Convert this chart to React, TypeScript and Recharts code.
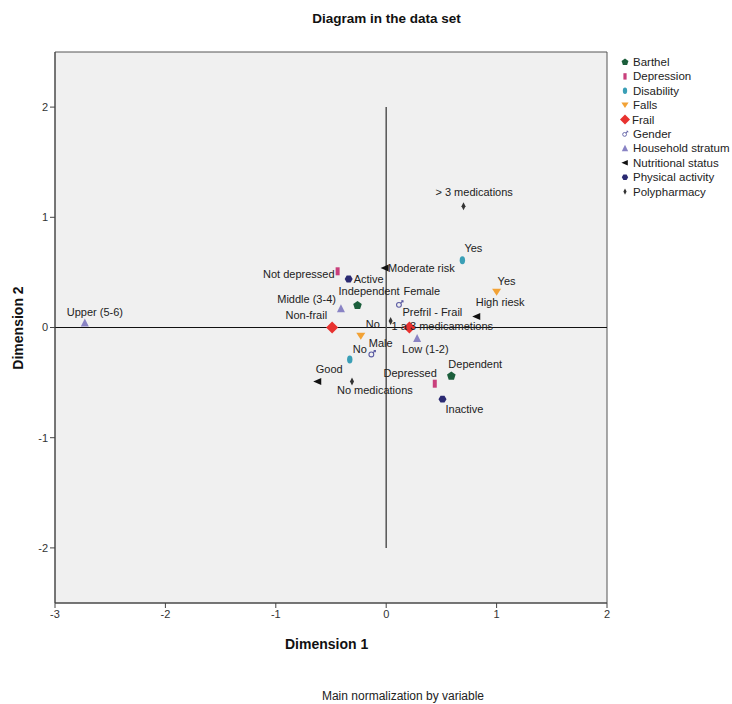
import React from "react";
import { ScatterChart, Scatter, XAxis, YAxis, ReferenceArea, ReferenceLine } from "recharts";

type Pt = { label: string; d1: number; d2: number };

// category points (dimension 1, dimension 2) per variable
const barthel: Pt[] = [
  { label: "Independent", d1: -0.26, d2: 0.2 },
  { label: "Dependent", d1: 0.59, d2: -0.44 },
];
const depression: Pt[] = [
  { label: "Not depressed", d1: -0.44, d2: 0.51 },
  { label: "Depressed", d1: 0.44, d2: -0.51 },
];
const disability: Pt[] = [
  { label: "Yes", d1: 0.69, d2: 0.61 },
  { label: "No", d1: -0.33, d2: -0.29 },
];
const falls: Pt[] = [
  { label: "Yes", d1: 1.0, d2: 0.32 },
  { label: "No", d1: -0.23, d2: -0.08 },
];
const frail: Pt[] = [
  { label: "Non-frail", d1: -0.49, d2: 0.0 },
  { label: "Prefril - Frail", d1: 0.21, d2: 0.0 },
];
const gender: Pt[] = [
  { label: "Female", d1: 0.12, d2: 0.21 },
  { label: "Male", d1: -0.13, d2: -0.24 },
];
const household: Pt[] = [
  { label: "Upper (5-6)", d1: -2.73, d2: 0.04 },
  { label: "Middle (3-4)", d1: -0.41, d2: 0.17 },
  { label: "Low (1-2)", d1: 0.28, d2: -0.1 },
];
const nutritional: Pt[] = [
  { label: "Moderate risk", d1: -0.01, d2: 0.54 },
  { label: "High riesk", d1: 0.82, d2: 0.1 },
  { label: "Good", d1: -0.62, d2: -0.49 },
];
const physical: Pt[] = [
  { label: "Active", d1: -0.34, d2: 0.44 },
  { label: "Inactive", d1: 0.51, d2: -0.65 },
];
const polypharmacy: Pt[] = [
  { label: "> 3 medications", d1: 0.7, d2: 1.1 },
  { label: "1 a 3 medicametions", d1: 0.04, d2: 0.06 },
  { label: "No medications", d1: -0.31, d2: -0.49 },
];

const seriesNames = [
  "Barthel",
  "Depression",
  "Disability",
  "Falls",
  "Frail",
  "Gender",
  "Household stratum",
  "Nutritional status",
  "Physical activity",
  "Polypharmacy",
];
const seriesData = [barthel, depression, disability, falls, frail, gender, household, nutritional, physical, polypharmacy];

const xTicks = [-3, -2, -1, 0, 1, 2];
const yTicks = [-2, -1, 0, 1, 2];

const FONT = "'Liberation Sans', Arial, sans-serif";

// label placement relative to the marker: dx, dy, anchor
const labelPos: Record<string, [number, number, "start" | "end" | "middle"]> = {
  "Barthel:Independent": [-19, -10, "start"],
  "Barthel:Dependent": [-3, -8, "start"],
  "Depression:Not depressed": [-3, 7, "end"],
  "Depression:Depressed": [2, -7, "end"],
  "Disability:Yes": [2, -8, "start"],
  "Disability:No": [3, -6, "start"],
  "Falls:Yes": [1, -7, "start"],
  "Falls:No": [5, -8, "start"],
  "Frail:Non-frail": [-5, -9, "end"],
  "Frail:Prefril - Frail": [-7, -12, "start"],
  "Gender:Female": [4, -9, "start"],
  "Gender:Male": [-3, -7, "start"],
  "Household stratum:Upper (5-6)": [-18, -7, "start"],
  "Household stratum:Middle (3-4)": [-5, -6, "end"],
  "Household stratum:Low (1-2)": [-15, 14, "start"],
  "Nutritional status:Moderate risk": [3, 4, "start"],
  "Nutritional status:High riesk": [-1, -10, "start"],
  "Nutritional status:Good": [-2, -8, "start"],
  "Physical activity:Active": [5, 4, "start"],
  "Physical activity:Inactive": [3, 14, "start"],
  "Polypharmacy:> 3 medications": [-28, -10, "start"],
  "Polypharmacy:1 a 3 medicametions": [1, 9, "start"],
  "Polypharmacy:No medications": [-15, 13, "start"],
};

function poly(cx: number, cy: number, r: number, n: number, start: number) {
  const pts: string[] = [];
  for (let i = 0; i < n; i++) {
    const a = ((start + (360 / n) * i) * Math.PI) / 180;
    pts.push(`${cx + r * Math.cos(a)},${cy + r * Math.sin(a)}`);
  }
  return pts.join(" ");
}

function marker(kind: string, cx: number, cy: number) {
  switch (kind) {
    case "Barthel":
      return <polygon points={poly(cx, cy, 4.5, 5, -90)} fill="#1b5e3b" />;
    case "Depression":
      return <rect x={cx - 2} y={cy - 4} width={4} height={8} fill="#c9407c" />;
    case "Disability":
      return <ellipse cx={cx} cy={cy} rx={2.7} ry={4} fill="#3a9fb6" />;
    case "Falls":
      return <polygon points={`${cx - 4.5},${cy - 3.5} ${cx + 4.5},${cy - 3.5} ${cx},${cy + 3.5}`} fill="#f2a235" />;
    case "Frail":
      return <polygon points={`${cx},${cy - 6} ${cx + 6},${cy} ${cx},${cy + 6} ${cx - 6},${cy}`} fill="#e8322f" />;
    case "Gender":
      return (
        <g stroke="#5a5aa2" strokeWidth={1.1} fill="none">
          <circle cx={cx - 0.5} cy={cy + 0.5} r={2.4} />
          <line x1={cx + 1.2} y1={cy - 1.2} x2={cx + 3.5} y2={cy - 3.5} />
          <polyline points={`${cx + 1.8},${cy - 3.5} ${cx + 3.5},${cy - 3.5} ${cx + 3.5},${cy - 1.8}`} />
        </g>
      );
    case "Household stratum":
      return <polygon points={`${cx},${cy - 4.5} ${cx + 4},${cy + 3.5} ${cx - 4},${cy + 3.5}`} fill="#8983c4" />;
    case "Nutritional status":
      return <polygon points={`${cx - 4.5},${cy} ${cx + 3.5},${cy - 3.5} ${cx + 3.5},${cy + 3.5}`} fill="#111" />;
    case "Physical activity":
      return <polygon points={poly(cx, cy, 4, 6, 0)} fill="#2b2a72" />;
    default:
      return <polygon points={`${cx},${cy - 4} ${cx + 2},${cy} ${cx},${cy + 4} ${cx - 2},${cy}`} fill="#333" />;
  }
}

const makeShape = (kind: string) => (props: any) => {
  const { cx, cy, payload } = props;
  const [dx, dy, anchor] = labelPos[`${kind}:${payload.label}`] ?? [4, -6, "start"];
  return (
    <g>
      {marker(kind, cx, cy)}
      <text x={cx + dx} y={cy + dy} textAnchor={anchor} fontSize={11} fill="#222" fontFamily={FONT}>
        {payload.label}
      </text>
    </g>
  );
};

export default function App() {
  return (
    <div style={{ position: "absolute", left: 0, top: 0, width: 732, height: 704, background: "#fff", fontFamily: FONT, overflow: "hidden" }}>
      <div style={{ position: "absolute", left: 0, width: 773, top: 11, textAlign: "center", fontSize: 13.5, fontWeight: "bold", color: "#111" }}>
        Diagram in the data set
      </div>
      <ScatterChart width={732} height={704} margin={{ top: 52, right: 125, bottom: 71, left: 0 }}>
        <ReferenceArea x1={-3} x2={2} y1={-2.5} y2={2.5} fill="#f0f0f0" fillOpacity={1} stroke="#555" strokeWidth={1} />
        <XAxis
          type="number"
          dataKey="d1"
          domain={[-3, 2]}
          ticks={xTicks}
          height={30}
          tickSize={5}
          tick={{ fontSize: 11, fill: "#333", fontFamily: FONT }}
          axisLine={{ stroke: "#444" }}
          tickLine={{ stroke: "#444" }}
        />
        <YAxis
          type="number"
          dataKey="d2"
          domain={[-2.5, 2.5]}
          ticks={yTicks}
          width={55}
          tickSize={5}
          tick={{ fontSize: 11, fill: "#333", fontFamily: FONT }}
          axisLine={{ stroke: "#444" }}
          tickLine={{ stroke: "#444" }}
        />
        <ReferenceLine y={0} stroke="#111" strokeWidth={1} />
        <ReferenceLine segment={[{ x: 0, y: -2 }, { x: 0, y: 2 }]} stroke="#555" strokeWidth={1.5} />
        {seriesNames.map((name, i) => (
          <Scatter
            key={name}
            name={name}
            data={seriesData[i]}
            shape={makeShape(name)}
            isAnimationActive={false}
            legendType="none"
          />
        ))}
      </ScatterChart>
      <div style={{ position: "absolute", left: 285, top: 636, fontSize: 14, fontWeight: "bold", color: "#111" }}>Dimension 1</div>
      <div
        style={{
          position: "absolute",
          left: 18,
          top: 328,
          transform: "translate(-50%, -50%) rotate(-90deg)",
          fontSize: 14,
          fontWeight: "bold",
          color: "#111",
          whiteSpace: "nowrap",
        }}
      >
        Dimension 2
      </div>
      <div style={{ position: "absolute", left: 0, width: 806, top: 689, textAlign: "center", fontSize: 12, color: "#222" }}>
        Main normalization by variable
      </div>
      <svg style={{ position: "absolute", left: 615, top: 54 }} width={117} height={150}>
        {seriesNames.map((name, i) => (
          <g key={name}>
            {name === "Frail" ? (
              <polygon points={`10,${8 + i * 14.4 - 5} 15,${8 + i * 14.4} 10,${8 + i * 14.4 + 5} 5,${8 + i * 14.4}`} fill="#e8322f" />
            ) : (
              <g transform={`translate(10, ${8 + i * 14.4}) scale(0.8) translate(-10, ${-(8 + i * 14.4)})`}>{marker(name, 10, 8 + i * 14.4)}</g>
            )}
            <text x={name === "Frail" ? 17 : 18} y={8 + i * 14.4 + 4} fontSize={11.5} fill="#222" fontFamily={FONT}>
              {name}
            </text>
          </g>
        ))}
      </svg>
    </div>
  );
}
